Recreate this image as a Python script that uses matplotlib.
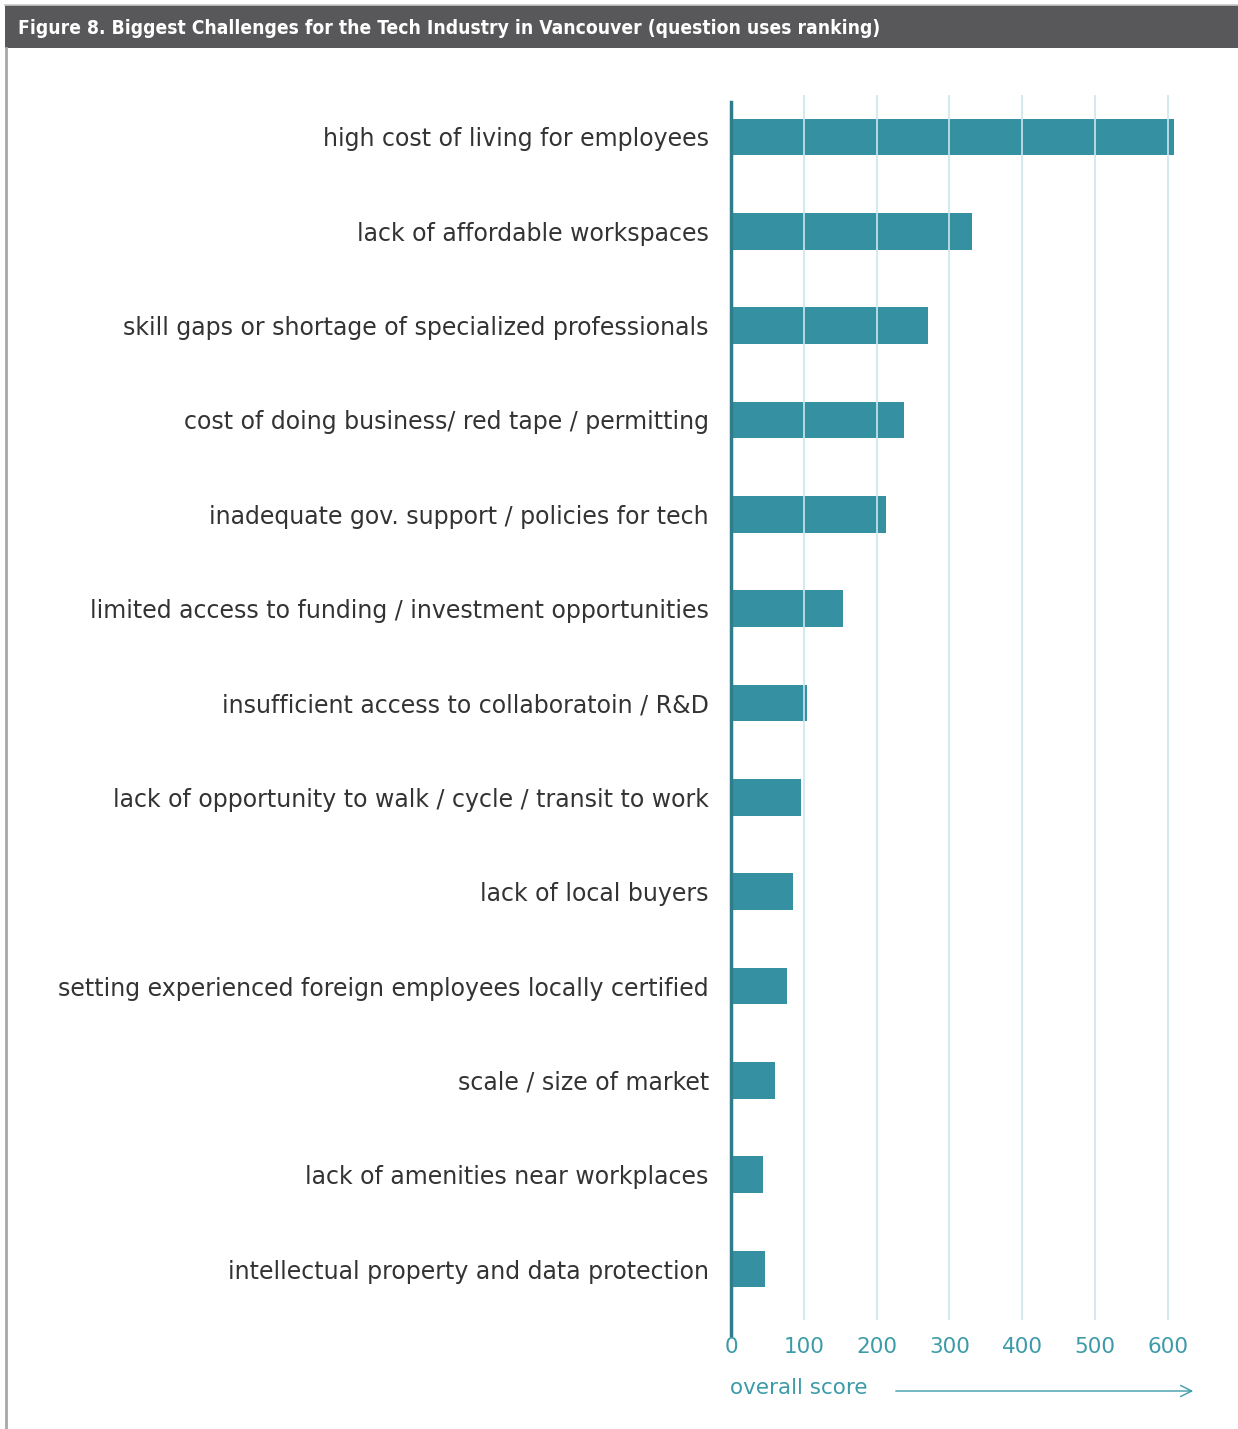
import matplotlib
matplotlib.use('Agg')
import matplotlib.pyplot as plt
from matplotlib.patches import Rectangle, FancyArrowPatch
from matplotlib.lines import Line2D

# data
challenges = [
    'high cost of living for employees',
    'lack of affordable workspaces',
    'skill gaps or shortage of specialized professionals',
    'cost of doing business/ red tape / permitting',
    'inadequate gov. support / policies for tech',
    'limited access to funding / investment opportunities',
    'insufficient access to collaboratoin / R&D',
    'lack of opportunity to walk / cycle / transit to work',
    'lack of local buyers',
    'setting experienced foreign employees locally certified',
    'scale / size of market',
    'lack of amenities near workplaces',
    'intellectual property and data protection',
]
scores = [608, 331, 270, 238, 213, 154, 104, 96, 85, 77, 60, 44, 47]
xticks = [0, 100, 200, 300, 400, 500, 600]

bar_col = '#3591a2'
teal = '#3d9ba8'
grid_col = '#cde6ec'
text_col = '#333333'

W, H = 1238, 1429
fig = plt.figure(figsize=(W / 100, H / 100), dpi=100)

# title bar
fig.add_artist(Rectangle((5 / W, 1 - 48 / H), 1 - 5 / W, 43 / H, transform=fig.transFigure,
                         facecolor='#58585a', edgecolor='none'))
fig.add_artist(Line2D([5 / W, 1], [1 - 5 / H, 1 - 5 / H], transform=fig.transFigure,
                      color='#c8c8c8', lw=1.2))
fig.add_artist(Line2D([6 / W, 6 / W], [0, 1 - 48 / H], transform=fig.transFigure,
                      color='#a8a8a8', lw=2))
fig.text(18 / W, 1 - 28 / H, 'Figure 8. Biggest Challenges for the Tech Industry in Vancouver (question uses ranking)',
         color='white', fontsize=13.8, fontweight='bold', fontstretch='condensed', va='center', ha='left',
         family='DejaVu Sans')

# axes: x=0 at px 731, 100 units = 72.8 px; top 95, bottom 1320
left = 731 / W
ax = fig.add_axes([left, 1 - 1320 / H, (1200 - 731) / W, (1320 - 95) / H])
y = list(range(len(challenges)))
ax.barh(y, scores, height=0.39, color=bar_col, zorder=1)
ax.set_xlim(0, 469 / 0.728)
ax.set_ylim(12.54, -0.445)

for v in xticks[1:]:
    ax.axvline(v, color=grid_col, lw=1.2, zorder=2)

ax.set_yticks(y)
ax.set_yticklabels(challenges, fontsize=17, color=text_col)
ax.set_xticks(xticks)
ax.set_xticklabels([str(v) for v in xticks], fontsize=15.5, color=teal)
ax.tick_params(axis='y', length=0, pad=16)
ax.tick_params(axis='x', length=0, pad=12)

for s in ['top', 'right', 'bottom']:
    ax.spines[s].set_visible(False)
ax.spines['left'].set_color('#2f7d8a')
ax.spines['left'].set_linewidth(2.5)
ax.spines['left'].set_bounds(12.7, -0.37)

fig.text(730 / W, 1 - 1388 / H, 'overall score', fontsize=15.5, color=teal, va='center', ha='left')
fig.add_artist(FancyArrowPatch((893 / W, 1 - 1391 / H), (1196 / W, 1 - 1391 / H),
                               transform=fig.transFigure, arrowstyle='->', mutation_scale=20,
                               color=teal, lw=1))

fig.savefig('out.png', dpi=100)
